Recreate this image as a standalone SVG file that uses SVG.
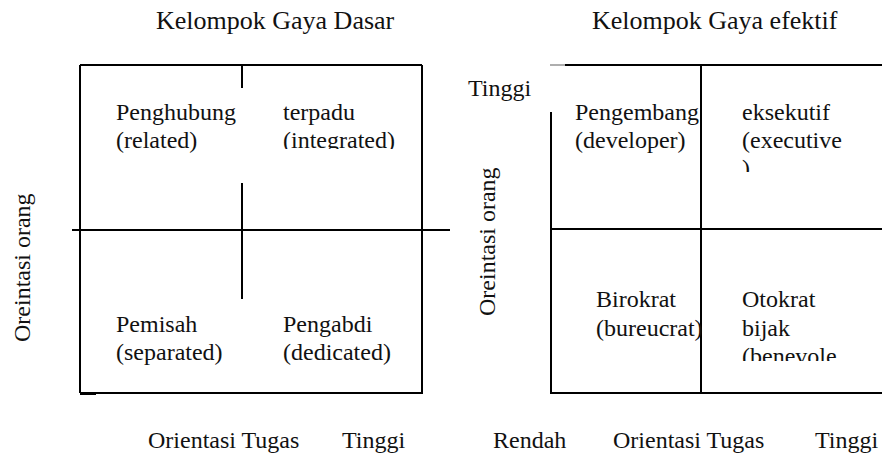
<svg xmlns="http://www.w3.org/2000/svg" width="882" height="459" viewBox="0 0 882 459">
  <style>
    .ln { stroke: #000; stroke-width: 2; fill: none; }
    .thin { stroke: #777; stroke-width: 1.2; fill: none; }
  </style>
  <defs>
    <clipPath id="clipIntegrated"><rect x="270" y="90" width="150" height="59"/></clipPath>
    <clipPath id="clipExecutive"><rect x="705" y="90" width="177" height="82"/></clipPath>
    <clipPath id="clipBenevolent"><rect x="705" y="280" width="177" height="81"/></clipPath>
  </defs>

  <!-- Grid lines of both charts -->
  <g id="grid">
    <!-- left chart -->
    <line class="ln" x1="80" y1="65" x2="422" y2="65"/>
    <line class="ln" x1="80" y1="65" x2="80" y2="393"/>
    <line class="ln" x1="422" y1="65" x2="422" y2="394"/>
    <line class="ln" x1="80" y1="393" x2="422" y2="393"/>
    <line class="ln" x1="80" y1="394" x2="96" y2="394"/>
    <line class="ln" x1="72" y1="230" x2="450" y2="230"/>
    <line class="ln" x1="242" y1="65" x2="242" y2="88"/>
    <line class="ln" x1="242" y1="183" x2="242" y2="299"/>
    <!-- right chart -->
    <line class="thin" x1="550" y1="65" x2="566" y2="65"/>
    <line class="ln" x1="565" y1="65" x2="882" y2="65"/>
    <line class="ln" x1="551" y1="112" x2="551" y2="394"/>
    <line class="ln" x1="551" y1="393" x2="882" y2="393"/>
    <line class="ln" x1="551" y1="229" x2="882" y2="229"/>
    <line class="ln" x1="701" y1="65" x2="701" y2="394"/>
  </g>

  <g font-family="'Liberation Serif', 'DejaVu Serif', serif" font-size="24" fill="#111">
    <!-- Titles -->
    <g id="title-dasar"><text x="156" y="29" font-size="26">Kelompok Gaya Dasar</text></g>
    <g id="title-efektif"><text x="592" y="29" font-size="26">Kelompok Gaya efektif</text></g>

    <!-- Left chart quadrants -->
    <g id="q-penghubung">
      <text x="116" y="120">Penghubung</text>
      <text x="116" y="148">(related)</text>
    </g>
    <g id="q-terpadu">
      <text x="283" y="120">terpadu</text>
      <text x="283" y="148" clip-path="url(#clipIntegrated)">(integrated)</text>
    </g>
    <g id="q-pemisah">
      <text x="116" y="332">Pemisah</text>
      <text x="116" y="360">(separated)</text>
    </g>
    <g id="q-pengabdi">
      <text x="283" y="332">Pengabdi</text>
      <text x="283" y="360">(dedicated)</text>
    </g>

    <!-- Right chart quadrants -->
    <g id="q-pengembang">
      <text x="575" y="120">Pengembang</text>
      <text x="575" y="148">(developer)</text>
    </g>
    <g id="q-eksekutif" clip-path="url(#clipExecutive)">
      <text x="742" y="120">eksekutif</text>
      <text x="742" y="148">(executive</text>
      <text x="742" y="176">)</text>
    </g>
    <g id="q-birokrat">
      <text x="596" y="307">Birokrat</text>
      <text x="596" y="336">(bureucrat)</text>
    </g>
    <g id="q-otokrat" clip-path="url(#clipBenevolent)">
      <text x="742" y="307">Otokrat</text>
      <text x="742" y="336">bijak</text>
      <text x="742" y="364">(benevole</text>
    </g>

    <!-- Axis labels -->
    <g id="axis-y-left"><text transform="translate(30,342) rotate(-90)">Oreintasi orang</text></g>
    <g id="axis-y-right"><text transform="translate(495,316) rotate(-90)">Oreintasi orang</text></g>
    <g id="label-tinggi-top"><text x="468" y="96">Tinggi</text></g>
    <g id="axis-x-left">
      <text x="148" y="448">Orientasi Tugas</text>
      <text x="342" y="448">Tinggi</text>
    </g>
    <g id="axis-x-right">
      <text x="493" y="448">Rendah</text>
      <text x="613" y="448">Orientasi Tugas</text>
      <text x="815" y="448">Tinggi</text>
    </g>
  </g>
</svg>
